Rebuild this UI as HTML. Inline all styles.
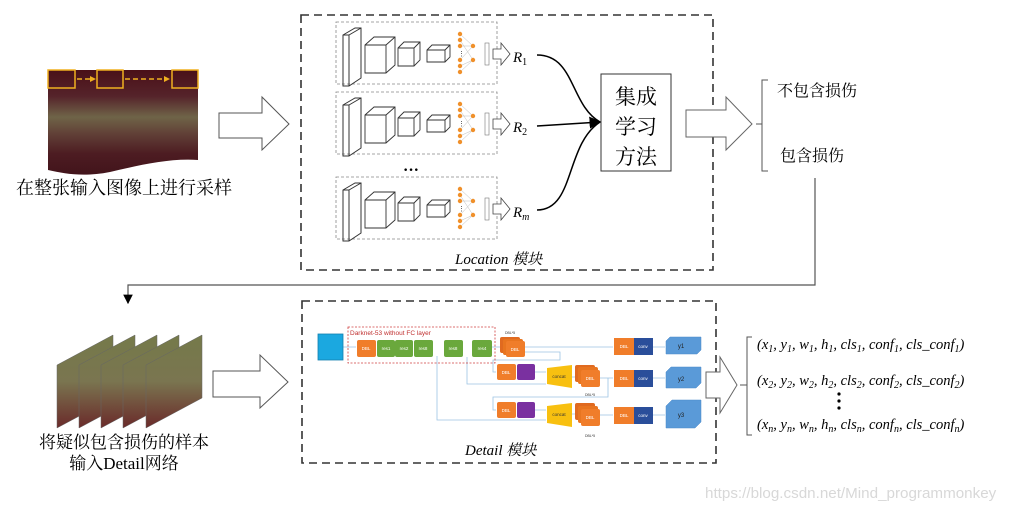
<!DOCTYPE html>
<html><head><meta charset="utf-8"><style>
html,body{margin:0;padding:0;background:#fff;}
svg{display:block;}
.cn{font-family:"Liberation Serif","Noto Serif CJK SC",serif;}
.it{font-family:"Liberation Serif","Noto Serif CJK SC",serif;font-style:italic;}
</style></head><body>
<svg width="1020" height="511" viewBox="0 0 1020 511" xmlns="http://www.w3.org/2000/svg">
<defs>
<linearGradient id="img1" x1="0" y1="0" x2="0" y2="1">
<stop offset="0" stop-color="#4a1018"/><stop offset="0.25" stop-color="#55232a"/>
<stop offset="0.45" stop-color="#6f6448"/><stop offset="0.6" stop-color="#624238"/>
<stop offset="0.8" stop-color="#4d1c22"/><stop offset="1" stop-color="#42141b"/>
</linearGradient>
<linearGradient id="fr" x1="0" y1="0" x2="0" y2="1">
<stop offset="0" stop-color="#757a4a"/><stop offset="0.5" stop-color="#7a7550"/><stop offset="1" stop-color="#6a2a2a"/>
</linearGradient>
<marker id="ah" markerWidth="8" markerHeight="8" refX="7" refY="4" orient="auto"><path d="M0,0 L8,4 L0,8 z" fill="#000"/></marker>
<g id="row">
<rect x="336" y="22" width="161" height="62" fill="none" stroke="#888" stroke-dasharray="3,2" stroke-width="0.8"/>
<path d="M343,35 L355,28 L361,28 L361,78 L349,86 L343,86 z M343,35 L349,35 L349,86 M349,35 L361,28" fill="none" stroke="#333" stroke-width="1"/>
<path d="M365,45 L374,37 L395,37 L395,65 L386,73 L365,73 z M365,45 L386,45 L395,37 M386,45 L386,73" fill="none" stroke="#333" stroke-width="0.9"/>
<path d="M398,48 L404,42 L420,42 L420,60 L414,66 L398,66 z M398,48 L414,48 L420,42 M414,48 L414,66" fill="none" stroke="#333" stroke-width="0.9"/>
<path d="M427,50 L432,45 L450,45 L450,57 L445,62 L427,62 z M427,50 L445,50 L450,45 M445,50 L445,62" fill="none" stroke="#333" stroke-width="0.9"/>
<g stroke="#bbb" stroke-width="0.5"><path d="M460,34 L473,46 M460,40 L473,60 M460,46 L473,46 M460,66 L473,60 M460,72 L473,60 M460,60 L473,46"/></g>
<g fill="#f0902a"><circle cx="460" cy="34" r="2.2"/><circle cx="460" cy="40" r="2.2"/><circle cx="460" cy="46" r="2.2"/><circle cx="460" cy="60" r="2.2"/><circle cx="460" cy="66" r="2.2"/><circle cx="460" cy="72" r="2.2"/><circle cx="473" cy="46" r="2.2"/><circle cx="473" cy="60" r="2.2"/></g>
<text x="458" y="56" font-size="7" fill="#333">⋮</text>
<rect x="485" y="43" width="4" height="22" fill="#fff" stroke="#777" stroke-width="0.6"/>
<path d="M493,49 L501,49 L501,43 L510,54 L501,65 L501,59 L493,59 z" fill="#fff" stroke="#444" stroke-width="0.8"/>
</g>
</defs>

<path d="M48,70 L198,70 L198,160 C170,158 140,165 110,172 C85,177 65,174 48,170 z" fill="url(#img1)"/>
<g fill="none" stroke="#f0b020" stroke-width="1.5">
<rect x="48" y="70" width="27" height="18"/><rect x="97" y="70" width="26" height="18"/><rect x="172" y="70" width="26" height="18"/>
<path d="M77,79 L93,79 M125,79 L168,79" stroke-dasharray="5,3"/>
</g>
<path d="M90,76 L96,79 L90,82z M164,76 L170,79 L164,82z" fill="#f0b020"/>
<text x="124" y="194" font-size="18" text-anchor="middle" class="cn">在整张输入图像上进行采样</text>

<path d="M219,113 L262,113 L262,97 L289,124 L262,150 L262,138 L219,138 z" fill="#fff" stroke="#555" stroke-width="1"/>

<rect x="301" y="15" width="412" height="255" fill="none" stroke="#333" stroke-width="1.6" stroke-dasharray="8,5"/>
<use href="#row"/>
<use href="#row" transform="translate(0,70)"/>
<use href="#row" transform="translate(0,155)"/>
<text x="403" y="175" font-size="16" font-weight="bold">···</text>
<text x="513" y="62" font-size="15" class="it">R<tspan font-size="10" dy="3" font-style="normal">1</tspan></text>
<text x="513" y="132" font-size="15" class="it">R<tspan font-size="10" dy="3" font-style="normal">2</tspan></text>
<text x="513" y="217" font-size="15" class="it">R<tspan font-size="10" dy="3">m</tspan></text>
<path d="M537,55 C575,55 570,105 600,122" fill="none" stroke="#000" stroke-width="1.5"/>
<path d="M537,126 L600,122" fill="none" stroke="#000" stroke-width="1.5" marker-end="url(#ah)"/>
<path d="M537,210 C575,210 565,145 600,122" fill="none" stroke="#000" stroke-width="1.5"/>
<rect x="601" y="74" width="70" height="97" fill="#fff" stroke="#333" stroke-width="1"/>
<text x="636" y="104" font-size="21" text-anchor="middle" class="cn">集成</text>
<text x="636" y="134" font-size="21" text-anchor="middle" class="cn">学习</text>
<text x="636" y="164" font-size="21" text-anchor="middle" class="cn">方法</text>
<text x="455" y="264" font-size="15" class="it">Location  模块</text>

<path d="M686,110 L726,110 L726,97 L752,124 L726,150 L726,137 L686,137 z" fill="#fff" stroke="#666" stroke-width="1"/>
<path d="M768,80 L762,80 L762,171 L768,171 M756,124 L762,124" fill="none" stroke="#555" stroke-width="1"/>
<text x="777" y="96" font-size="16" class="cn">不包含损伤</text>
<text x="780" y="161" font-size="16" class="cn">包含损伤</text>
<path d="M815,178 L815,285 L128,285 L128,303" fill="none" stroke="#555" stroke-width="1.2" marker-end="url(#ah)"/>

<g stroke="#666" stroke-width="0.5">
<path d="M57,365 L113,335 L113,398 L57,428 z" fill="url(#fr)"/>
<path d="M79,365 L135,335 L135,398 L79,428 z" fill="url(#fr)"/>
<path d="M101,365 L157,335 L157,398 L101,428 z" fill="url(#fr)"/>
<path d="M123,365 L179,335 L179,398 L123,428 z" fill="url(#fr)"/>
<path d="M146,365 L202,335 L202,398 L146,428 z" fill="url(#fr)"/>
</g>
<text x="124" y="448" font-size="17" text-anchor="middle" class="cn">将疑似包含损伤的样本</text>
<text x="124" y="469" font-size="17" text-anchor="middle" class="cn">输入Detail网络</text>
<path d="M213,371 L260,371 L260,355 L288,382 L260,408 L260,397 L213,397 z" fill="#fff" stroke="#555" stroke-width="1"/>

<rect x="302" y="301" width="414" height="162" fill="none" stroke="#333" stroke-width="1.6" stroke-dasharray="8,5"/>
<g stroke="#9cc4e4" stroke-width="0.8" fill="none">
<path d="M343,347 L356,347 M492,347 L500,347 M525,347 L613,347 M653,347 L665,347"/>
<path d="M525,352 L560,352 L560,360 L493,360 L493,372 L496,372"/>
<path d="M467,357 L467,384 L546,384 M535,372 L546,372 M572,377 L575,377 M600,378 L613,378 M653,378 L665,378"/>
<path d="M608,378 L608,397 L493,397 L493,410 L496,410"/>
<path d="M437,356 L437,420 L546,420 M535,410 L546,410 M572,414 L575,414 M600,415 L613,415 M653,415 L665,415"/>
</g>
<rect x="318" y="334" width="25" height="26" fill="#1ba8e0" stroke="#1580b0" stroke-width="0.8"/>
<rect x="348" y="327" width="147" height="36" fill="none" stroke="#d04040" stroke-width="0.8" stroke-dasharray="2,1.5"/>
<text x="350" y="335" font-size="6.5" fill="#c03030" font-family="Liberation Sans,sans-serif">Darknet-53 without FC layer</text>
<g font-family="Liberation Sans,sans-serif" font-size="4.5" fill="#fff" text-anchor="middle">
<rect x="357" y="340" width="19" height="17" rx="2" fill="#f07d2a"/><text x="366" y="350">DBL</text>
<rect x="377" y="340" width="18" height="17" rx="2" fill="#6aa83c"/><text x="386" y="350">res1</text>
<rect x="395" y="340" width="18" height="17" rx="2" fill="#6aa83c"/><text x="404" y="350">res2</text>
<rect x="414" y="340" width="19" height="17" rx="2" fill="#6aa83c"/><text x="423" y="350">res8</text>
<rect x="444" y="340" width="19" height="17" rx="2" fill="#6aa83c"/><text x="453" y="350">res8</text>
<rect x="472" y="340" width="20" height="17" rx="2" fill="#6aa83c"/><text x="482" y="350">res4</text>
<rect x="500" y="337" width="20" height="16" rx="2" fill="#e06a20"/><rect x="503" y="339" width="20" height="16" rx="2" fill="#e87520"/><rect x="506" y="341" width="19" height="16" rx="2" fill="#f07d2a"/><text x="515" y="351">DBL</text>
<rect x="497" y="364" width="19" height="16" rx="2" fill="#f07d2a"/><text x="506" y="374">DBL</text>
<rect x="517" y="364" width="18" height="16" rx="2" fill="#7a30a0"/>
<path d="M547,368 L572,365 L572,388 L547,384 z" fill="#f8c010"/><text x="559" y="378" fill="#333">concat</text>
<rect x="575" y="365" width="20" height="17" rx="2" fill="#e06a20"/><rect x="578" y="367" width="20" height="17" rx="2" fill="#e87520"/><rect x="581" y="370" width="19" height="17" rx="2" fill="#f07d2a"/><text x="590" y="380">DBL</text>
<rect x="497" y="402" width="19" height="16" rx="2" fill="#f07d2a"/><text x="506" y="412">DBL</text>
<rect x="517" y="402" width="18" height="16" rx="2" fill="#7a30a0"/>
<path d="M547,406 L572,403 L572,427 L547,423 z" fill="#f8c010"/><text x="559" y="416" fill="#333">concat</text>
<rect x="575" y="403" width="20" height="17" rx="2" fill="#e06a20"/><rect x="578" y="406" width="20" height="17" rx="2" fill="#e87520"/><rect x="581" y="409" width="19" height="17" rx="2" fill="#f07d2a"/><text x="590" y="419">DBL</text>
<rect x="614" y="338" width="20" height="17" fill="#f07d2a"/><rect x="634" y="338" width="19" height="17" fill="#2a4e9a"/><text x="624" y="348">DBL</text><text x="643" y="348">conv</text>
<rect x="614" y="370" width="20" height="17" fill="#f07d2a"/><rect x="634" y="370" width="19" height="17" fill="#2a4e9a"/><text x="624" y="380">DBL</text><text x="643" y="380">conv</text>
<rect x="614" y="407" width="20" height="17" fill="#f07d2a"/><rect x="634" y="407" width="19" height="17" fill="#2a4e9a"/><text x="624" y="417">DBL</text><text x="643" y="417">conv</text>
</g>
<g fill="#5a9ad8" stroke="#4a88c8" stroke-width="0.5">
<path d="M666,341 L670,337 L701,337 L701,350 L697,354 L666,354 z"/>
<path d="M666,372 L671,367 L701,367 L701,383 L696,388 L666,388 z"/>
<path d="M666,406 L672,400 L701,400 L701,422 L695,428 L666,428 z"/>
</g>
<g font-family="Liberation Sans,sans-serif" font-size="6" fill="#222" text-anchor="middle">
<text x="681" y="348">y1</text><text x="681" y="381">y2</text><text x="681" y="417">y3</text>
</g>
<g font-family="Liberation Sans,sans-serif" font-size="3.5" fill="#333">
<text x="505" y="334">DBL*5</text><text x="585" y="396">DBL*5</text><text x="585" y="437">DBL*5</text>
</g>
<text x="465" y="455" font-size="15" class="it">Detail  模块</text>

<path d="M706,372 L720,372 L720,357 L737,385 L720,413 L720,398 L706,398 z" fill="#fff" stroke="#666" stroke-width="1"/>
<path d="M752,337 L747,337 L747,435 L752,435 M740,385 L747,385" fill="none" stroke="#555" stroke-width="1"/>
<g font-size="14.5" class="it">
<text x="757" y="349">(x<tspan font-size="10" dy="3">1</tspan><tspan dy="-3">, y</tspan><tspan font-size="10" dy="3">1</tspan><tspan dy="-3">, w</tspan><tspan font-size="10" dy="3">1</tspan><tspan dy="-3">, h</tspan><tspan font-size="10" dy="3">1</tspan><tspan dy="-3">, cls</tspan><tspan font-size="10" dy="3">1</tspan><tspan dy="-3">, conf</tspan><tspan font-size="10" dy="3">1</tspan><tspan dy="-3">, cls_conf</tspan><tspan font-size="10" dy="3">1</tspan><tspan dy="-3">)</tspan></text>
<text x="757" y="385">(x<tspan font-size="10" dy="3">2</tspan><tspan dy="-3">, y</tspan><tspan font-size="10" dy="3">2</tspan><tspan dy="-3">, w</tspan><tspan font-size="10" dy="3">2</tspan><tspan dy="-3">, h</tspan><tspan font-size="10" dy="3">2</tspan><tspan dy="-3">, cls</tspan><tspan font-size="10" dy="3">2</tspan><tspan dy="-3">, conf</tspan><tspan font-size="10" dy="3">2</tspan><tspan dy="-3">, cls_conf</tspan><tspan font-size="10" dy="3">2</tspan><tspan dy="-3">)</tspan></text>
<text x="757" y="429">(x<tspan font-size="10" dy="3">n</tspan><tspan dy="-3">, y</tspan><tspan font-size="10" dy="3">n</tspan><tspan dy="-3">, w</tspan><tspan font-size="10" dy="3">n</tspan><tspan dy="-3">, h</tspan><tspan font-size="10" dy="3">n</tspan><tspan dy="-3">, cls</tspan><tspan font-size="10" dy="3">n</tspan><tspan dy="-3">, conf</tspan><tspan font-size="10" dy="3">n</tspan><tspan dy="-3">, cls_conf</tspan><tspan font-size="10" dy="3">n</tspan><tspan dy="-3">)</tspan></text>
</g>
<circle cx="839" cy="394" r="1.6"/><circle cx="839" cy="401" r="1.6"/><circle cx="839" cy="408" r="1.6"/>
<text x="705" y="498" font-size="15.2" fill="#d8d8d8" font-family="Liberation Sans,sans-serif">https://blog.csdn.net/Mind_programmonkey</text>
</svg>
</body></html>
